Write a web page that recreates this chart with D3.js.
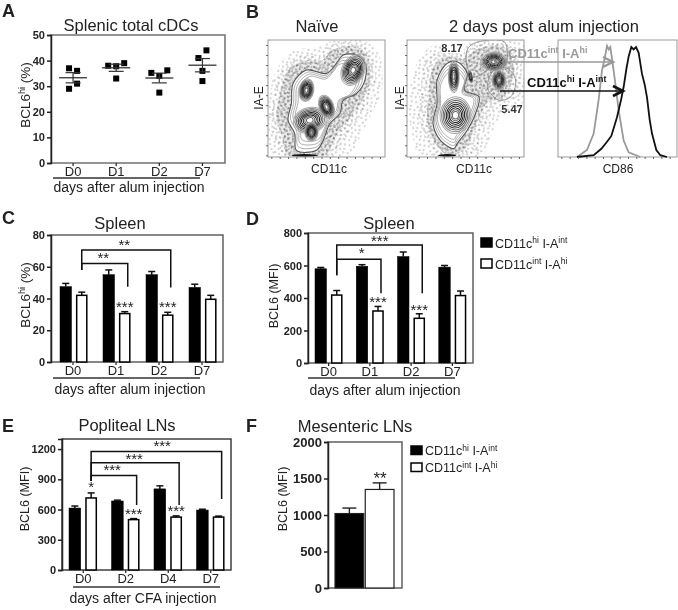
<!DOCTYPE html>
<html><head><meta charset="utf-8">
<script src="https://cdn.jsdelivr.net/npm/d3@7"></script>
<style>
html,body{margin:0;background:#fff}
svg{display:block;filter:blur(0.35px)}
text{font-family:"Liberation Sans",Arial,sans-serif;fill:#222}
</style></head><body><svg id="c" width="678" height="610"></svg>
<script>
// ---------- data ----------
const alumDays=["D0","D1","D2","D7"], cfaDays=["D0","D2","D4","D7"], series=["hi","int"];
const aPoints=[[37,36,31,29],[38,37.8,39,33],[35.2,36.2,34,27.5],[41,44,36,32]];
const aSlots=[[-1,1,1,-1],[-2,0,2,0],[-2,2,0,0],[-1,1,0,0]];
const aMean=[33.3,37.2,33.2,38.2], aSem=[2,1.4,1.9,2.6];
const cHi=[47.5,55,55,47], cHiErr=[2,3,2,2], cInt=[42,30.5,29.5,39.5], cIntErr=[2,1.2,1.8,2.5];
const dHi=[580,595,655,590], dHiErr=[8,10,28,10], dInt=[418,320,275,415], dIntErr=[28,28,28,28];
const eHi=[615,685,805,595], eHiErr=[20,8,30,8], eInt=[715,500,525,525], eIntErr=[50,10,12,10];
const fVals=[1020,1350], fErr=[75,90];
const cBrackets=[{to:2,y:70.5,left:58,right:47,star:"**"},{to:1,y:62,left:58,right:47.4,star:"**"}];
const dBrackets=[{to:2,y:726,left:540,right:430,star:"***"},{to:1,y:638,left:540,right:430,star:"*"}];
const eBrackets=[{to:3,y:1177,left:883,right:704,star:"***"},{to:2,y:1064,left:883,right:645,star:"***"},{to:1,y:939,left:883,right:645,star:"***"}];
const contourLevels=[1,.9,.8,.7,.6,.5,.4,.3,.2];
const stippleTile=[[1,2],[5,1],[9,3],[14,1],[19,2],[3,6],[7,7],[12,5],[17,6],[21,8],[1,10],[6,11],[10,9],[15,10],[20,12],[3,14],[8,15],[13,13],[18,16],[22,17],[5,18],[11,17],[16,14]];
const naiveOutline=[[85,330],[80,280],[60,240],[70,190],[75,130],[115,90],[175,100],[205,70],[225,45],[265,45],[290,70],[290,120],[265,160],[225,180],[215,220],[185,250],[165,300],[145,330]];
const naiveHalos=[
 [[60,345],[40,280],[25,235],[35,170],[60,90],[110,60],[160,62],[195,28],[270,22],[300,55],[305,130],[280,185],[245,235],[205,285],[170,345]],
 [[45,345],[20,290],[8,235],[15,165],[45,80],[100,45],[150,45],[190,12],[275,8],[315,50],[320,135],[295,200],[260,250],[225,300],[190,345]],
 [[15,345],[3,280],[3,190],[25,90],[80,30],[140,25],[190,3],[290,3],[335,50],[340,150],[310,220],[280,280],[240,345]]];
const naiveBlobs=[[125,240,50,38,-15],[255,90,34,48,25],[115,150,22,34,10],[175,200,22,36,-20],[130,275,20,28,0]];
const naiveBar=[[110,345,40,4]];
const alumOutline=[[140,325],[100,300],[78,250],[90,190],[90,120],[120,70],[150,65],[180,100],[172,150],[215,170],[205,220],[180,270],[150,310]];
const alumGates=[[[180,30],[200,10],[290,5],[300,50],[290,80],[260,80],[200,110],[180,80]],[[250,160],[240,140],[260,90],[300,85],[325,120],[310,170],[275,180]]];
const alumHalos=[
 [[125,345],[85,310],[60,250],[65,170],[75,90],[110,50],[170,55],[215,25],[290,20],[320,90],[290,170],[240,190],[205,260],[170,330]],
 [[95,345],[55,290],[35,230],[40,140],[60,60],[110,30],[165,30],[210,8],[300,8],[340,90],[330,170],[270,195],[235,260],[195,345]],
 [[40,345],[15,280],[5,190],[25,80],[70,20],[150,10],[240,3],[345,5],[345,190],[280,230],[250,290],[220,345]]];
const alumBlobs=[[140,110,16,48,0],[145,225,46,55,5],[260,65,40,28,0],[275,120,20,30,0],[190,110,5,18,-10]];
const alumBar=[[120,345,28,4]];
const histGray=[[57,0],[87,6],[107,20],[122,49],[132,74],[140,84],[147,95],[152,92],[157,94],[162,84],[172,63],[182,40],[197,14],[212,4],[247,0]];
const histBlack=[[57,0],[107,1.5],[130,7],[147,13],[160,18],[177,34],[190,50],[197,60],[205,75],[212,86],[220,94],[227,92],[234,94],[242,89],[247,80],[252,71],[260,62],[267,51],[275,32],[282,20],[295,6],[307,1.5],[327,0]];

// ---------- helpers ----------
const svg=d3.select("#c");
const defs=svg.append("defs");
[0,37,74,115].forEach((a,i)=>{
  const p=defs.append("pattern").attr("id","st"+i).attr("patternUnits","userSpaceOnUse").attr("width",23).attr("height",19)
    .attr("patternTransform",`rotate(${a}) translate(${i*5},${i*3})`);
  stippleTile.forEach(d=>p.append("circle").attr("cx",d[0]).attr("cy",d[1]).attr("r",.5).attr("fill","#1a1a1a"));
});
function txt(x,y,s,o={}){
  const size=o.size||12.5;
  const t=svg.append("text").attr("x",x).attr("y",y).attr("font-size",size)
    .attr("text-anchor",o.anchor||"middle").attr("font-weight",o.bold?"bold":"normal");
  if(o.color)t.style("fill",o.color);
  if(o.rot)t.attr("transform",`rotate(${o.rot} ${x} ${y})`);
  let pending=0;
  s.forEach(p=>{
    if(typeof p==="string"){
      const sp=t.append("tspan").text(p);
      if(pending)sp.attr("dy",pending);
      pending=0;
    }else{
      t.append("tspan").attr("dy",pending-size*.35).attr("font-size",size*.68).text(p.sup);
      pending=size*.35;
    }
  });
  return t;
}
function yAxis(y,ticks,x,box,frame,fs){
  svg.append("rect").attr("x",box[0]).attr("y",box[1]).attr("width",box[2]-box[0]).attr("height",box[3]-box[1])
    .attr("fill","none").attr("stroke",frame).attr("stroke-width",1.4);
  const g=svg.append("g").attr("transform",`translate(${x},0)`)
    .call(d3.axisLeft(y).tickValues(ticks).tickSize(4).tickPadding(2).tickFormat(d3.format("d")));
  g.selectAll("path,line").attr("stroke","#222").attr("stroke-width",1.5);
  g.selectAll("text").attr("font-size",fs||11).attr("font-weight","bold").style("font-family",'"Liberation Sans",Arial,sans-serif');
}
function xLabels(x,yPos,fs){
  const g=svg.append("g").attr("transform",`translate(0,${yPos})`)
    .call(d3.axisBottom(x).tickSize(3).tickPadding(1));
  g.select("path").remove();
  g.selectAll("line").attr("stroke","#222").attr("stroke-width",1.2);
  g.selectAll("text").attr("font-size",fs||13).style("font-family",'"Liberation Sans",Arial,sans-serif');
}
function under(x1,x2,y,label,cx,ly){
  svg.append("line").attr("x1",x1).attr("x2",x2).attr("y1",y).attr("y2",y).attr("stroke","#333").attr("stroke-width",1.4);
  txt(cx,ly,[label],{size:14});
}
function bars(x0,x1,y,names,hi,hiE,int_,intE){
  const g=svg.append("g");
  names.forEach((n,i)=>{
    [[hi,hiE,"hi"],[int_,intE,"int"]].forEach(([v,e,s])=>{
      const bx=x0(n)+x1(s),w=x1.bandwidth(),cx=bx+w/2;
      g.append("line").attr("x1",cx).attr("x2",cx).attr("y1",y(v[i])).attr("y2",y(v[i]+e[i])).attr("stroke","#111").attr("stroke-width",1.5);
      g.append("line").attr("x1",cx-3.5).attr("x2",cx+3.5).attr("y1",y(v[i]+e[i])).attr("y2",y(v[i]+e[i])).attr("stroke","#111").attr("stroke-width",1.5);
      g.append("rect").attr("x",s==="hi"?bx:bx+.7).attr("y",y(v[i])).attr("width",s==="hi"?w:w-1.4).attr("height",y(0)-y(v[i]))
        .attr("fill",s==="hi"?"#000":"#fff").attr("stroke","#000").attr("stroke-width",s==="hi"?.5:1.5);
    });
  });
}
function brackets(list,x0,x1,y,names,labelDx,labelDy){
  list.forEach((b,i)=>{
    const xl=x0(names[0])+x1("int")+x1.bandwidth()/2;
    const xr=x0(names[b.to])+x1("int")+x1.bandwidth()/2+3;
    svg.append("path").attr("fill","none").attr("stroke","#111").attr("stroke-width",1.5)
      .attr("d",d3.line()([[xl,y(b.left)],[xl,y(b.y)],[xr,y(b.y)],[xr,y(b.right)]]));
    txt(xl+labelDx[i],y(b.y)+labelDy[i],[b.star],{size:15});
  });
}
function stars(x0,x1,y,names,vals,errs,idx,s,dy){
  idx.forEach(i=>{
    const cx=x0(names[i])+x1("int")+x1.bandwidth()/2;
    txt(cx,y(vals[i]+errs[i])+dy,[s],{size:15});
  });
}
function legend(x,y1,y2,w,h,tx,fs){
  [[y1,"#000",[ "CD11c",{sup:"hi"}," I-A",{sup:"int"}]],[y2,"#fff",["CD11c",{sup:"int"}," I-A",{sup:"hi"}]]].forEach(([yy,f,s])=>{
    svg.append("rect").attr("x",x).attr("y",yy).attr("width",w).attr("height",h).attr("fill",f).attr("stroke","#000").attr("stroke-width",1.5);
    txt(tx,yy+h+.5,s,{size:fs,anchor:"start"});
  });
}

// ---------- panel letters ----------
[["A",2,17],["B",246,18],["C",2,224],["D",246,225],["E",2,432],["F",246,432]].forEach(d=>txt(d[1],d[2],[d[0]],{size:18,bold:true,anchor:"start"}));

// ---------- A ----------
{
  const y=d3.scaleLinear().domain([0,50]).range([163,35]);
  const x=d3.scaleBand().domain(alumDays).range([51.5,224]);
  yAxis(y,[0,10,20,30,40,50],51,[51,35,225,163],"#666",11);
  xLabels(x,163);
  alumDays.forEach((d,i)=>{
    const cx=x(d)+x.bandwidth()/2;
    aPoints[i].forEach((v,j)=>svg.append("rect").attr("x",cx+aSlots[i][j]*4-3).attr("y",y(v)-3).attr("width",6).attr("height",6).attr("fill","#000"));
    svg.append("line").attr("x1",cx-14).attr("x2",cx+14).attr("y1",y(aMean[i])).attr("y2",y(aMean[i])).attr("stroke","#333").attr("stroke-width",1.3);
    [1,-1].forEach(k=>svg.append("line").attr("x1",cx-7.5).attr("x2",cx+7.5).attr("y1",y(aMean[i]+k*aSem[i])).attr("y2",y(aMean[i]+k*aSem[i])).attr("stroke","#333").attr("stroke-width",1.2));
    svg.append("line").attr("x1",cx).attr("x2",cx).attr("y1",y(aMean[i]+aSem[i])).attr("y2",y(aMean[i]-aSem[i])).attr("stroke","#333").attr("stroke-width",1.2);
  });
  txt(131,31,["Splenic total cDCs"],{size:16.5});
  txt(30,95,["BCL6",{sup:"hi"}," (%)"],{size:13.5,rot:-90});
  under(53,200,178,"days after alum injection",129,192);
}

// ---------- B ----------
const closed=d3.line().curve(d3.curveCatmullRomClosed.alpha(.5));
function flow(left,top,size,outline,halos,blobs,bar,gates){
  const sx=d3.scaleLinear().domain([0,350]).range([left,left+size]);
  const sy=d3.scaleLinear().domain([0,350]).range([top,top+size]);
  const id="cl"+left;
  svg.append("clipPath").attr("id",id).append("rect").attr("x",left).attr("y",top).attr("width",size).attr("height",size);
  const g=svg.append("g").attr("clip-path",`url(#${id})`);
  const path=p=>closed(p.map(q=>[sx(q[0]),sy(q[1])]));
  // stipple halos: outermost first, density builds up by overlapping fills
  [2,1,0].forEach(i=>{
    g.append("path").attr("d",path(halos[i])).attr("fill",`url(#st${i})`);
    if(i===0){
      g.append("path").attr("d",path(halos[0])).attr("fill","url(#st3)");
      g.append("path").attr("d",path(halos[0])).attr("fill","#000").attr("fill-opacity",.08);
    }
  });
  g.append("path").attr("d",path(outline)).attr("fill","#fff").attr("stroke","#555").attr("stroke-width",1.1);
  const c=d3.polygonCentroid(outline);
  [.93,.86,.79].forEach((k,n)=>{
    g.append("path").attr("d",path(outline.map(q=>[c[0]+(q[0]-c[0])*k,c[1]+(q[1]-c[1])*k])))
      .attr("fill","none").attr("stroke","#999").attr("stroke-width",.8);
  });
  blobs.forEach(b=>{
    contourLevels.forEach((l,k)=>{
      g.append("ellipse").attr("cx",sx(b[0])).attr("cy",sy(b[1]))
        .attr("rx",(sx(b[2])-sx(0))*l).attr("ry",(sx(b[3])-sx(0))*l)
        .attr("transform",`rotate(${b[4]} ${sx(b[0])} ${sy(b[1])})`)
        .attr("fill","none")
        .attr("stroke",d3.interpolateRgb("#aaa","#222")(Math.min(1,k/4)*(k>6?.5:1))).attr("stroke-width",1);
    });
  });
  bar.forEach(b=>g.append("ellipse").attr("cx",sx(b[0])).attr("cy",sy(b[1])).attr("rx",sx(b[2])-sx(0)).attr("ry",sx(b[3])-sx(0)).attr("fill","#111"));
  (gates||[]).forEach(p=>g.append("path").attr("d",path(p)).attr("fill","none").attr("stroke","#888").attr("stroke-width",.9));
  svg.append("rect").attr("x",left).attr("y",top).attr("width",size).attr("height",size).attr("fill","none").attr("stroke","#999").attr("stroke-width",1);
  const ax=svg.append("g").attr("transform",`translate(0,${top+size})`).call(d3.axisBottom(sx).tickValues(d3.range(10,350,25)).tickSize(2).tickFormat(""));
  const ay=svg.append("g").attr("transform",`translate(${left},0)`).call(d3.axisLeft(sy).tickValues(d3.range(15,350,30)).tickSize(2).tickFormat(""));
  [ax,ay].forEach(a=>{a.select("path").remove();a.selectAll("line").attr("stroke","#666");});
}
flow(268,40,117,naiveOutline,naiveHalos,naiveBlobs,naiveBar);
flow(407,40,117,alumOutline,alumHalos,alumBlobs,alumBar,alumGates);
{
  const hx=d3.scaleLinear().domain([0,357]).range([558,677]);
  const hy=d3.scaleLinear().domain([0,100]).range([157,40]);
  svg.append("rect").attr("x",558).attr("y",40).attr("width",119).attr("height",117).attr("fill","none").attr("stroke","#999");
  const l=d3.line().x(d=>hx(d[0])).y(d=>hy(d[1]));
  svg.append("path").attr("d",l(histGray)).attr("fill","none").attr("stroke","#999").attr("stroke-width",1.8);
  svg.append("path").attr("d",l(histBlack)).attr("fill","none").attr("stroke","#111").attr("stroke-width",1.8);
  const ax=svg.append("g").attr("transform","translate(0,157)").call(d3.axisBottom(hx).tickValues(d3.range(10,357,25)).tickSize(2).tickFormat(""));
  ax.select("path").remove();ax.selectAll("line").attr("stroke","#666");
}
txt(317,32,["Naïve"],{size:16.5});
txt(544,32,["2 days post alum injection"],{size:16.5});
txt(329,173,["CD11c"],{size:12});
txt(474,173,["CD11c"],{size:12});
txt(618,173,["CD86"],{size:12});
txt(263,98,["IA-E"],{size:12,rot:-90});
txt(404,98,["IA-E"],{size:12,rot:-90});
function arrow(x1,x2,yy,c,w){
  svg.append("path").attr("fill","none").attr("stroke",c).attr("stroke-width",w)
    .attr("d",d3.line()([[x1,yy],[x2,yy]]));
  svg.append("path").attr("fill","none").attr("stroke",c).attr("stroke-width",w+1)
    .attr("d",d3.line()([[x2-10,yy-5],[x2,yy],[x2-10,yy+5]]));
}
arrow(507,613,62,"#999",1.4);
arrow(500,623,91,"#111",1.6);
const lab=(x,y,w,h)=>svg.append("rect").attr("x",x).attr("y",y).attr("width",w).attr("height",h).attr("fill","#fff");
lab(441,42,23,11);
txt(452,52,["8.17"],{size:11,bold:true,color:"#333"});
txt(512,113,["5.47"],{size:11,bold:true,color:"#333"});
txt(508,58,["CD11c",{sup:"int"}," I-A",{sup:"hi"}],{size:13,bold:true,anchor:"start",color:"#999"});
txt(527,87,["CD11c",{sup:"hi"}," I-A",{sup:"int"}],{size:13,bold:true,anchor:"start",color:"#111"});

// ---------- C ----------
{
  const y=d3.scaleLinear().domain([0,80]).range([362,235]);
  const x0=d3.scaleBand().domain(alumDays).range([51.5,223.5]);
  const x1=d3.scaleBand().domain(series).range([8.5,36]).paddingInner(.28);
  yAxis(y,[0,20,40,60,80],51,[51,235,223,362],"#555",11);
  xLabels(x0,362);
  bars(x0,x1,y,alumDays,cHi,cHiErr,cInt,cIntErr);
  brackets(cBrackets,x0,x1,y,alumDays,[42.5,21.5],[0,-1]);
  stars(x0,x1,y,alumDays,cInt,cIntErr,[1,2],"***",0);
  txt(120,229,["Spleen"],{size:16.5});
  txt(30,295,["BCL6",{sup:"hi"}," (%)"],{size:13.5,rot:-90});
  under(53,200,378,"days after alum injection",130,394);
}

// ---------- D ----------
{
  const y=d3.scaleLinear().domain([0,800]).range([363,233]);
  const x0=d3.scaleBand().domain(alumDays).range([308,473]);
  const x1=d3.scaleBand().domain(series).range([7,34.5]).paddingInner(.28);
  yAxis(y,[0,200,400,600,800],308,[308,233,473,363],"#555",11);
  xLabels(x0,363);
  bars(x0,x1,y,alumDays,dHi,dHiErr,dInt,dIntErr);
  brackets(dBrackets,x0,x1,y,alumDays,[43,25],[1,-1]);
  stars(x0,x1,y,alumDays,dInt,dIntErr,[1,2],"***",1);
  txt(389,229,["Spleen"],{size:16.5});
  txt(278,296,["BCL6 (MFI)"],{size:12.5,rot:-90});
  under(308,455,378,"days after alum injection",385,395);
  legend(481,238,259,11,9,495,12.5);
}

// ---------- E ----------
{
  const y=d3.scaleLinear().domain([0,1300]).range([570,439]);
  const x0=d3.scaleBand().domain(cfaDays).range([62,232]);
  const x1=d3.scaleBand().domain(series).range([7,35]).paddingInner(.28);
  yAxis(y,[0,300,600,900,1200],62,[62,439,231,570],"#333",11);
  xLabels(x0,570);
  bars(x0,x1,y,cfaDays,eHi,eHiErr,eInt,eIntErr);
  brackets(eBrackets,x0,x1,y,cfaDays,[71,43,21],[0,1,0]);
  stars(x0,x1,y,cfaDays,eInt,eIntErr,[1,2],"***",0);
  stars(x0,x1,y,cfaDays,eInt,eIntErr,[0],"*",-1);
  txt(127,431,["Popliteal LNs"],{size:16.5});
  txt(29,499,["BCL6 (MFI)"],{size:12.5,rot:-90});
  under(73,220,587,"days after CFA injection",143,603);
}

// ---------- F ----------
{
  const y=d3.scaleLinear().domain([0,2000]).range([588,442]);
  const x1=d3.scaleBand().domain(series).range([335,394]).paddingInner(.05);
  yAxis(y,[0,500,1000,1500,2000],328,[328,442,402,588],"#555",13);
  series.forEach((s,i)=>{
    const cx=x1(s)+x1.bandwidth()/2;
    svg.append("line").attr("x1",cx).attr("x2",cx).attr("y1",y(fVals[i])).attr("y2",y(fVals[i]+fErr[i])).attr("stroke","#222").attr("stroke-width",1.4);
    svg.append("line").attr("x1",cx-7).attr("x2",cx+7).attr("y1",y(fVals[i]+fErr[i])).attr("y2",y(fVals[i]+fErr[i])).attr("stroke","#222").attr("stroke-width",1.4);
    svg.append("rect").attr("x",x1(s)).attr("y",y(fVals[i])).attr("width",x1.bandwidth()).attr("height",y(0)-y(fVals[i]))
      .attr("fill",i?"#fff":"#000").attr("stroke","#222").attr("stroke-width",1.2);
  });
  txt(380,484,["**"],{size:17});
  txt(355,432,["Mesenteric LNs"],{size:16.5});
  txt(287,499,["BCL6 (MFI)"],{size:12.5,rot:-90});
  legend(411,446,463,11,8.5,425,12.5);
}
</script></body></html>
